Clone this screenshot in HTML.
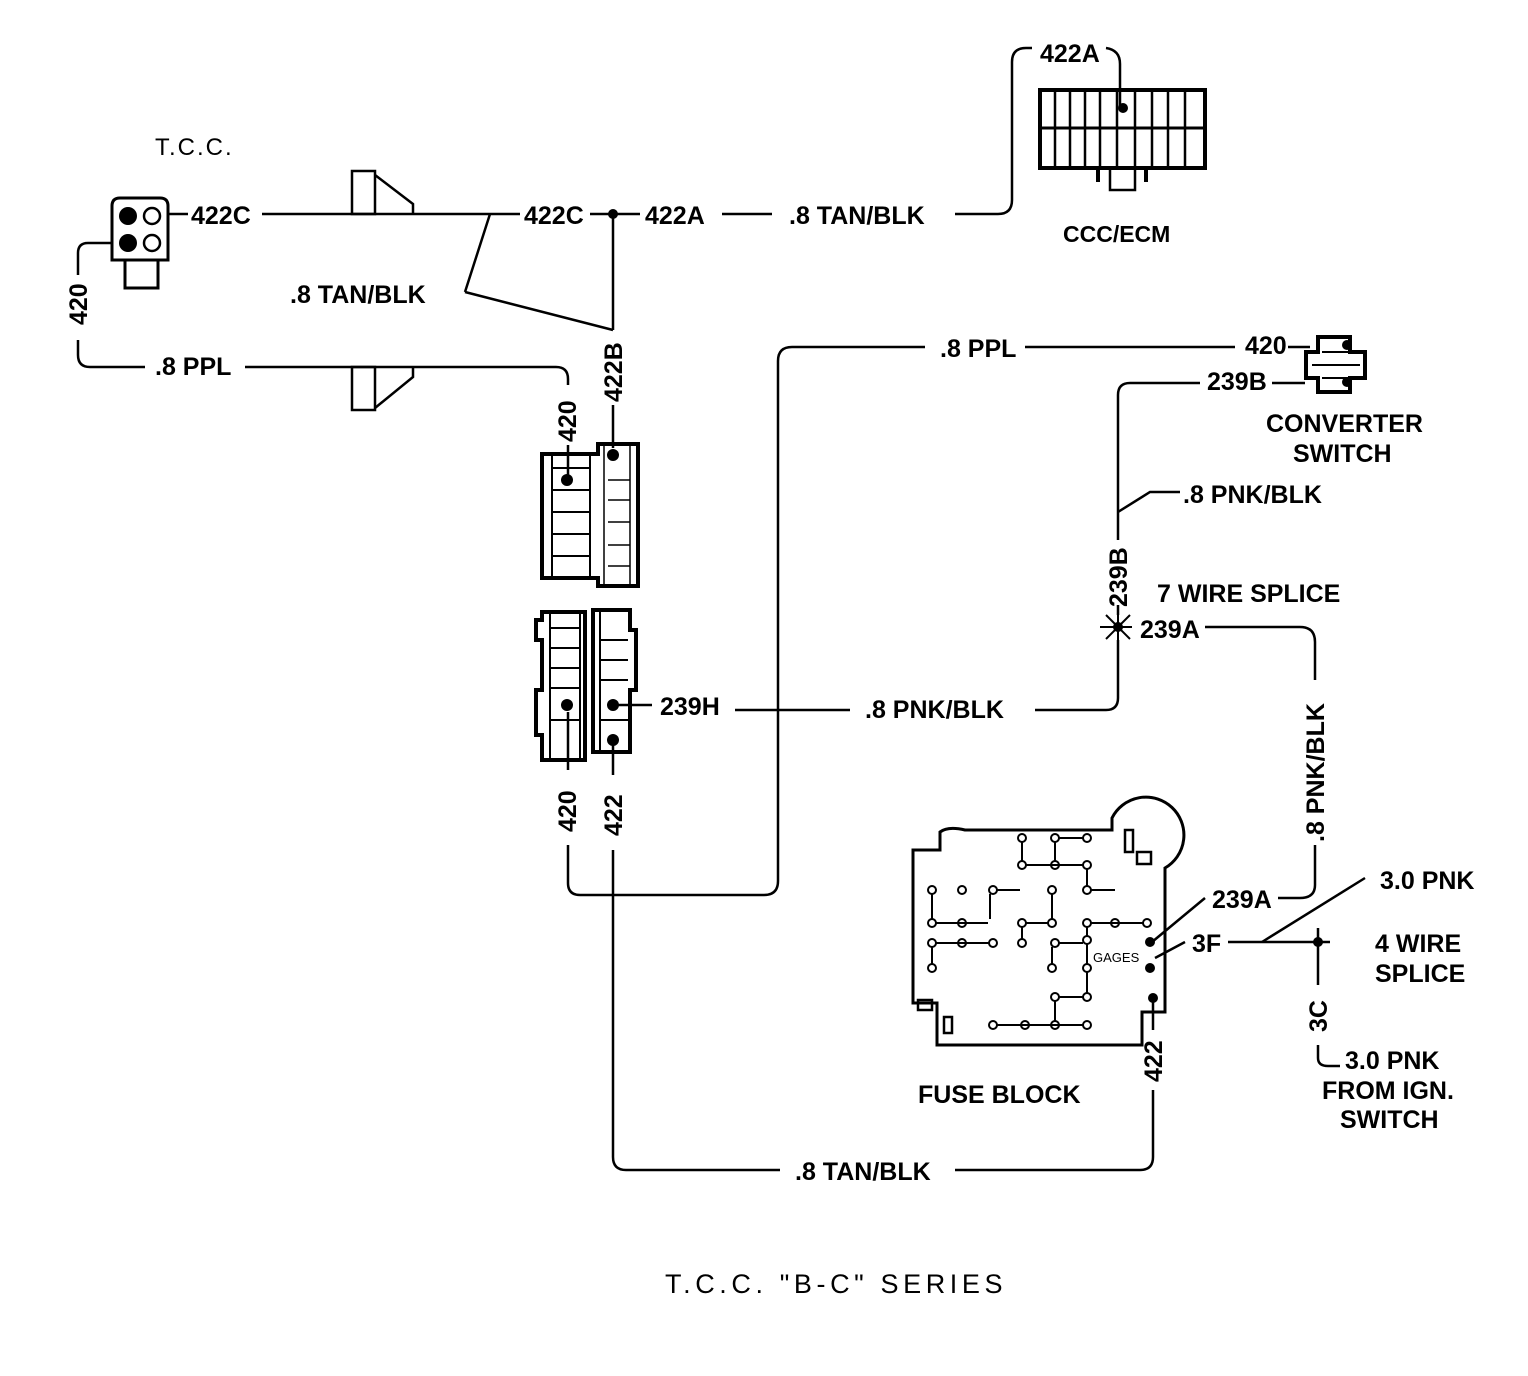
<!DOCTYPE html>
<html><head><meta charset="utf-8"><style>
html,body{margin:0;padding:0;background:#fff}
svg{display:block}
text{font-family:"Liberation Sans",sans-serif;font-weight:bold;font-size:25px;fill:#000}
.t{font-weight:normal;font-size:27px;letter-spacing:4.6px}
</style></head><body>
<svg width="1528" height="1376" viewBox="0 0 1528 1376" xmlns="http://www.w3.org/2000/svg">
<g fill="none" stroke="#000" stroke-width="2.5">
<path d="M120 198 H160 Q168 198 168 206 V260 H112 V206 Q112 198 120 198Z" stroke-width="3"/>
<rect x="125" y="260" width="33" height="28" stroke-width="3"/>
<circle cx="152" cy="216" r="8"/><circle cx="152" cy="243" r="8"/>
<path d="M168 214 H188"/>
<path d="M262 214 H520"/>
<path d="M590 214 H640"/>
<path d="M722 214 H772"/>
<path d="M955 214 H998 Q1012 214 1012 200 V62 Q1012 48 1026 48 H1032"/>
<path d="M1106 48 Q1120 50 1120 64 V108"/>
<rect x="352" y="171" width="23" height="43"/>
<path d="M375 175 L413 204 V214"/>
<rect x="352" y="367" width="23" height="43"/>
<path d="M375 408 L413 377 V367"/>
<path d="M465 292 L490 214 M465 292 L613 330"/>
<path d="M613 214 V330 M613 405 V448"/>
<path d="M112 243 H88 Q78 243 78 253 V275 M78 340 V355 Q78 367 90 367 H145"/>
<path d="M245 367 H556 Q568 367 568 379 V385 M568 445 V478"/>
<rect x="1040" y="90" width="165" height="78" stroke-width="4"/>
<path d="M1040 128 H1205" stroke-width="3"/>
<path d="M1055 92 V166 M1070 92 V166 M1085 92 V166 M1100 92 V166 M1117 92 V166 M1135 92 V166 M1152 92 V166 M1168 92 V166 M1185 92 V166"/>
<rect x="1110" y="168" width="25" height="22"/>
<path d="M1098 168 V182 M1146 168 V182" stroke-width="4"/>
<path d="M542 454 H598 V444 H638 V586 H598 V578 H542 Z" stroke-width="4"/>
<path d="M552 456 V576 M590 456 V576 M552 468 H590 M552 490 H590 M552 512 H590 M552 534 H590 M552 556 H590" stroke-width="2"/>
<path d="M604 446 V584 M630 446 V584 M608 480 H630 M608 500 H630 M608 522 H630 M608 545 H630 M608 566 H630" stroke-width="1.5"/>
<path d="M542 612 H585 V760 H542 V735 H536 V690 H542 V640 H536 V620 H542Z" stroke-width="4"/>
<path d="M550 614 V758 M580 614 V758 M550 628 H580 M550 648 H580 M550 668 H580 M550 688 H580 M550 720 H580" stroke-width="2"/>
<path d="M593 610 H630 V630 H636 V690 H630 V752 H593 Z" stroke-width="4"/>
<path d="M600 612 V750 M600 640 H628 M600 660 H628 M600 680 H628 M600 720 H628" stroke-width="2"/>
<path d="M613 705 H652 M735 710 H850 M1035 710 H1106 Q1118 710 1118 698 V640"/>
<path d="M1118 615 V605 M1118 540 V395 Q1118 383 1130 383 H1200 M1272 383 H1305"/>
<path d="M1118 512 L1150 492 H1180"/>
<path d="M1205 627 H1300 Q1315 627 1315 642 V680 M1315 845 V885 Q1315 898 1300 898 H1278"/>
<path d="M1205 898 L1152 942"/>
<path d="M1100 627 H1132 M1118 612 V642 M1106 615 L1130 639 M1130 615 L1106 639" stroke-width="2"/>
<path d="M1025 347 H1235 M1288 347 H1310"/>
<path d="M925 347 H792 Q778 347 778 361 V881 Q778 895 764 895 H580 Q568 895 568 883 V845 M568 770 V712"/>
<path d="M613 745 V775 M613 850 V1157 Q613 1170 626 1170 H780 M955 1170 H1140 Q1153 1170 1153 1157 V1090 M1153 1030 V1000"/>
<path d="M1318 337 H1350 V352 H1365 V378 H1350 V392 H1318 V378 H1306 V352 H1318 Z" stroke-width="4"/>
<path d="M1322 352 H1348 M1322 378 H1348 M1312 365 H1360" stroke-width="2"/>
<path d="M1155 958 L1185 942 M1228 942 H1330 M1318 928 V985 M1318 1045 V1058 Q1318 1066 1328 1066 H1340"/>
<path d="M1262 942 L1365 878"/>
<path d="M913 850 H940 V832 Q948 826 965 830 H1112 V818 A38 38 0 1 1 1165 868 V1012 H1142 V1045 H937 V1003 H913 Z" stroke-width="3"/>
<rect x="1125" y="830" width="8" height="22"/><rect x="1137" y="852" width="14" height="12"/>
<rect x="918" y="1000" width="14" height="10"/><rect x="944" y="1017" width="8" height="16"/>
<g stroke-width="2">
<circle cx="1022" cy="838" r="4"/><circle cx="1055" cy="838" r="4"/><circle cx="1087" cy="838" r="4"/><path d="M1059 838 H1083"/>
<circle cx="1022" cy="865" r="4"/><circle cx="1055" cy="865" r="4"/><circle cx="1087" cy="865" r="4"/><path d="M1026 865 H1083 M1055 842 V861 M1022 842 V861"/>
<circle cx="1087" cy="890" r="4"/><path d="M1091 890 H1115 M1087 869 V886"/>
<circle cx="932" cy="890" r="4"/><circle cx="962" cy="890" r="4"/><circle cx="993" cy="890" r="4"/><circle cx="1052" cy="890" r="4"/><path d="M997 890 H1020"/>
<circle cx="932" cy="923" r="4"/><circle cx="962" cy="923" r="4"/><circle cx="1022" cy="923" r="4"/><circle cx="1052" cy="923" r="4"/><circle cx="1087" cy="923" r="4"/><circle cx="1115" cy="923" r="4"/><circle cx="1147" cy="923" r="4"/>
<path d="M936 923 H988 M1026 923 H1048 M1091 923 H1143 M932 894 V919 M990 894 V919 M1052 894 V919"/>
<circle cx="932" cy="943" r="4"/><circle cx="962" cy="943" r="4"/><circle cx="993" cy="943" r="4"/><circle cx="1022" cy="943" r="4"/><circle cx="1055" cy="943" r="4"/><circle cx="1087" cy="940" r="4"/>
<path d="M936 943 H990 M1059 943 H1083 M1087 927 V936 M1022 927 V939"/>
<circle cx="932" cy="968" r="4"/><circle cx="1052" cy="968" r="4"/><circle cx="1087" cy="968" r="4"/><path d="M932 947 V964 M1052 947 V964 M1087 944 V964"/>
<circle cx="1055" cy="997" r="4"/><circle cx="1087" cy="997" r="4"/><path d="M1059 997 H1083 M1087 972 V993"/>
<circle cx="993" cy="1025" r="4"/><circle cx="1025" cy="1025" r="4"/><circle cx="1055" cy="1025" r="4"/><circle cx="1087" cy="1025" r="4"/><path d="M997 1025 H1083 M1055 1001 V1021"/>
</g>
</g>
<g fill="#000">
<circle cx="128" cy="216" r="9"/><circle cx="128" cy="243" r="9"/>
<circle cx="613" cy="214" r="5"/>
<circle cx="1123" cy="108" r="5"/>
<circle cx="567" cy="480" r="6"/><circle cx="613" cy="455" r="6"/>
<circle cx="567" cy="705" r="6"/><circle cx="613" cy="705" r="6"/><circle cx="613" cy="740" r="6"/>
<circle cx="1118" cy="627" r="5"/><circle cx="1318" cy="942" r="5"/>
<circle cx="1347" cy="345" r="5"/><circle cx="1347" cy="382" r="5"/>
<circle cx="1150" cy="942" r="5"/><circle cx="1150" cy="968" r="5"/><circle cx="1153" cy="998" r="5"/>
</g>
<text x="155" y="155" style="font-weight:normal;font-size:24px;letter-spacing:2px">T.C.C.</text>
<text x="191" y="224">422C</text>
<text x="524" y="224">422C</text>
<text x="645" y="224">422A</text>
<text x="789" y="224">.8 TAN/BLK</text>
<text x="1040" y="62">422A</text>
<text x="1063" y="242" style="font-size:23px">CCC/ECM</text>
<text x="290" y="303">.8 TAN/BLK</text>
<text x="155" y="375">.8 PPL</text>
<text x="940" y="357">.8 PPL</text>
<text x="1245" y="354">420</text>
<text x="1207" y="390">239B</text>
<text x="1266" y="432">CONVERTER</text>
<text x="1293" y="462">SWITCH</text>
<text x="1183" y="503">.8 PNK/BLK</text>
<text x="1157" y="602">7 WIRE SPLICE</text>
<text x="1140" y="638">239A</text>
<text x="660" y="715">239H</text>
<text x="865" y="718">.8 PNK/BLK</text>
<text x="1212" y="908">239A</text>
<text x="1380" y="889">3.0 PNK</text>
<text x="1192" y="952">3F</text>
<text x="1375" y="952">4 WIRE</text>
<text x="1375" y="982">SPLICE</text>
<text x="1345" y="1069">3.0 PNK</text>
<text x="1322" y="1099">FROM IGN.</text>
<text x="1340" y="1128">SWITCH</text>
<text x="918" y="1103">FUSE BLOCK</text>
<text x="795" y="1180">.8 TAN/BLK</text>
<text x="1093" y="962" style="font-size:13px;font-weight:normal">GAGES</text>
<text transform="translate(87,325) rotate(-90)">420</text>
<text transform="translate(622,402) rotate(-90)">422B</text>
<text transform="translate(576,442) rotate(-90)">420</text>
<text transform="translate(1127,607) rotate(-90)">239B</text>
<text transform="translate(1324,842) rotate(-90)">.8 PNK/BLK</text>
<text transform="translate(576,832) rotate(-90)">420</text>
<text transform="translate(622,836) rotate(-90)">422</text>
<text transform="translate(1162,1082) rotate(-90)">422</text>
<text transform="translate(1327,1032) rotate(-90)">3C</text>
<text x="665" y="1293" class="t">T.C.C. "B-C" SERIES</text>
</svg>
</body></html>
